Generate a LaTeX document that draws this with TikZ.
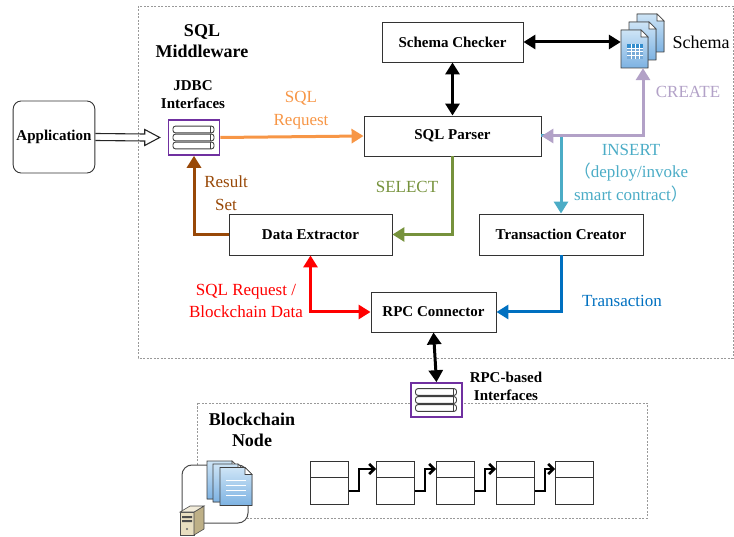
\documentclass[tikz,border=0pt]{standalone}
\usepackage{fontspec}
\setmainfont{Liberation Serif}
\newfontfamily\cjk{Noto Sans CJK SC}
\usetikzlibrary{arrows.meta,calc}

\definecolor{reqorange}{RGB}{247,150,70}
\definecolor{resbrown}{RGB}{152,72,7}
\definecolor{selgreen}{RGB}{118,146,60}
\definecolor{crepurple}{RGB}{178,161,199}
\definecolor{inscyan}{RGB}{75,172,198}
\definecolor{txblue}{RGB}{0,112,192}
\definecolor{ifacepurple}{RGB}{112,48,160}
\definecolor{pagetop}{RGB}{205,228,246}
\definecolor{pagebot}{RGB}{125,178,226}
\definecolor{gridblue}{RGB}{120,170,215}
\definecolor{serverbeige}{RGB}{232,222,192}
\definecolor{serverside}{RGB}{190,176,135}

\tikzstyle{module} = [draw=black!80,fill=white,line width=0.9pt,rectangle,
  minimum height=40pt,font=\fontsize{15}{17}\selectfont\bfseries]
\tikzstyle{iface} = [draw=ifacepurple,fill=white,line width=1.6pt,
  minimum width=51pt,minimum height=35pt,inner sep=0pt]
\tikzstyle{flow} = [line width=3pt,-{Triangle[length=12pt,width=14pt]}]
\tikzstyle{both} = [{Triangle[length=12pt,width=14pt]}-{Triangle[length=12pt,width=14pt]}]
\tikzstyle{flowlabel} = [font=\fontsize{17}{22.5}\selectfont,align=center]
\tikzstyle{title} = [font=\fontsize{18}{21.5}\selectfont\bfseries,align=center]
\tikzstyle{smalltitle} = [font=\fontsize{15}{18}\selectfont\bfseries,align=center]
\tikzstyle{region} = [draw=black!40,line width=0.8pt,dash pattern=on 2pt off 1.5pt]
\tikzstyle{block} = [draw=black!80,fill=white,line width=1pt,
  minimum width=38pt,minimum height=43pt,inner sep=0pt]

% three book-like bars inside an interface box
\newcommand\shelves[1]{%
  \foreach \k in {-1,0,1}{
    \draw[line width=0.9pt,black!75,rounded corners=2.5pt]
      ($(#1.center)+(-21,\k*8-3.4)$) rectangle ($(#1.center)+(20,\k*8+3.4)$);
    \draw[line width=0.9pt,black!75]
      ($(#1.center)+(16.5,\k*8-3.4)$) -- ($(#1.center)+(16.5,\k*8+3.4)$);
  }}

% page with a folded corner: x, y, width, height
\newcommand\docpage[4]{%
  \filldraw[draw=black!75,line width=0.8pt,top color=pagetop,bottom color=pagebot]
    (#1,#2) -- ++(#3-7,0) -- ++(7,7) -- ++(0,#4-7) -- ++(-#3,0) -- cycle;
  \draw[black!75,line width=0.6pt,fill=white] (#1+#3-7,#2) -- ++(0,7) -- ++(7,0) -- cycle;}

\begin{document}
\begin{tikzpicture}[x=1pt,y=-1pt]
  \useasboundingbox (0,0) rectangle (734,537);

  \draw[region] (138,6) rectangle (733,358);
  \draw[region] (197,403) rectangle (647,518);

  \node[title] (mwtitle) at (202,41) {SQL\\Middleware};
  \node[title] (bctitle) at (252,430) {Blockchain\\Node};

  % modules
  \node[module,rounded corners=8pt,minimum width=80pt,minimum height=72pt] (app) at (54,137) {Application};
  \node[module,minimum width=177pt] (parser) at (452.5,136) {SQL Parser};
  \node[module,minimum width=141pt] (checker) at (452.5,42) {Schema Checker};
  \node[module,minimum width=163pt,minimum height=41pt] (extractor) at (310.5,234.5) {Data Extractor};
  \node[module,minimum width=164pt,minimum height=41pt] (creator) at (561,234.5) {Transaction Creator};
  \node[module,minimum width=125pt] (rpc) at (433.5,312) {RPC Connector};

  % interfaces
  \node[iface] (jdbc) at (194,137.5) {};
  \shelves{jdbc}
  \node[smalltitle] (jdbclabel) at (193,95) {JDBC\\Interfaces};
  \node[iface,minimum height=34pt] (rpcif) at (436.5,400) {};
  \shelves{rpcif}
  \node[smalltitle] (rpclabel) at (506,386) {RPC-based\\Interfaces};

  % schema files
  \foreach \d in {16,8,0}{\docpage{621+\d}{30-\d}{27}{38}}
  \fill[gridblue] (627,44) rectangle (643,59);
  \fill[txblue!80] (627,44) rectangle (643,48);
  \foreach \gx in {631,635,639} \draw[white,line width=0.6pt] (\gx,44) -- (\gx,59);
  \foreach \gy in {48,51.7,55.4} \draw[white,line width=0.6pt] (627,\gy) -- (643,\gy);
  \node[inner sep=0pt,minimum width=27pt,minimum height=38pt] (schema) at (634.5,49) {};
  \node[font=\fontsize{18}{20}\selectfont] (schemalabel) at (701,42) {Schema};

  % hollow block arrow into the JDBC interfaces
  \draw[line width=1.1pt,black!85,line join=miter]
    ($(app.east)+(0,-3.5)$) -- ($(jdbc.west)+(-23,-3.5)$) -- ($(jdbc.west)+(-23,-8)$)
    -- ($(jdbc.west)+(-8,0)$) -- ($(jdbc.west)+(-23,8)$) -- ($(jdbc.west)+(-23,3.5)$)
    -- ($(app.east)+(0,3.5)$);

  % flows
  \draw[flow,reqorange] (jdbc.east) -- (parser.west);
  \node[flowlabel,text=reqorange] (reqlabel) at (301,110) {SQL\\Request};
  \draw[flow,both,black] (checker.south) -- (parser.north);
  \draw[flow,both,black] (checker.east) -- (checker.east -| schema.west);
  \draw[flow,inscyan] (parser.east) -- (creator.north |- parser.east) -- (creator.north);
  \draw[flow,both,crepurple] (parser.east) -| ($(schema.south)+(8.5,0)$);
  \node[flowlabel,text=crepurple] (crelabel) at (688,92) {CREATE};
  \node[flowlabel,text=inscyan] (inslabel) at (631,173) {INSERT\\{\cjk （}deploy/invoke\\smart contract{\cjk ）}};
  \draw[flow,selgreen] (parser.south) |- (extractor.east);
  \node[flowlabel,text=selgreen] (sellabel) at (407,187) {SELECT};
  \draw[flow,resbrown] (extractor.west) -| (jdbc.south);
  \node[flowlabel,text=resbrown] (reslabel) at (226,193) {Result\\Set};
  \draw[flow,both,red] (extractor.south) |- (rpc.west);
  \node[flowlabel,text=red] (redlabel) at (246,301) {SQL Request /\\Blockchain Data};
  \draw[flow,txblue] (creator.south) |- (rpc.east);
  \node[flowlabel,text=txblue] (txlabel) at (622,301) {Transaction};
  \draw[flow,both,black] (rpc.south) -- (rpcif.north);

  % blockchain node icon
  \draw[black!70,fill=white,line width=1pt,rounded corners=10pt] (182,465) rectangle (248,523);
  \foreach \d in {0,6,13}{\docpage{207+\d}{461+\d/2}{32}{38}}
  \foreach \ly in {480,485,490,495} \draw[white,line width=0.8pt] (226,\ly) -- (246,\ly);
  \filldraw[fill=serverbeige,draw=black!70,line width=0.6pt] (180,512) rectangle (194,535);
  \filldraw[fill=serverside,draw=black!70,line width=0.6pt] (194,512) -- (204,506) -- (204,529) -- (194,535) -- cycle;
  \filldraw[fill=serverbeige!60,draw=black!70,line width=0.6pt] (180,512) -- (190,506) -- (204,506) -- (194,512) -- cycle;
  \fill[black!70] (182,516) rectangle (192,518) (182,520) rectangle (192,522);
  \fill[black!60] (187,529) circle (1.2);

  % chain of blocks
  \foreach \bx [count=\i] in {310,376,436,496,555}{
    \node[block,anchor=north west] (blk\i) at (\bx,461) {};
    \draw[black!80,line width=1pt] (\bx,477) -- (\bx+38,477);
  }
  \foreach \i [evaluate=\i as \j using int(\i+1)] in {1,...,4}
    \draw[line width=2.6pt,-{Straight Barb[length=5pt,width=10pt]}]
      ([yshift=14pt]blk\i.south east) -- ++(10,0) |- ([yshift=-8pt]blk\j.north west);
\end{tikzpicture}
\end{document}
